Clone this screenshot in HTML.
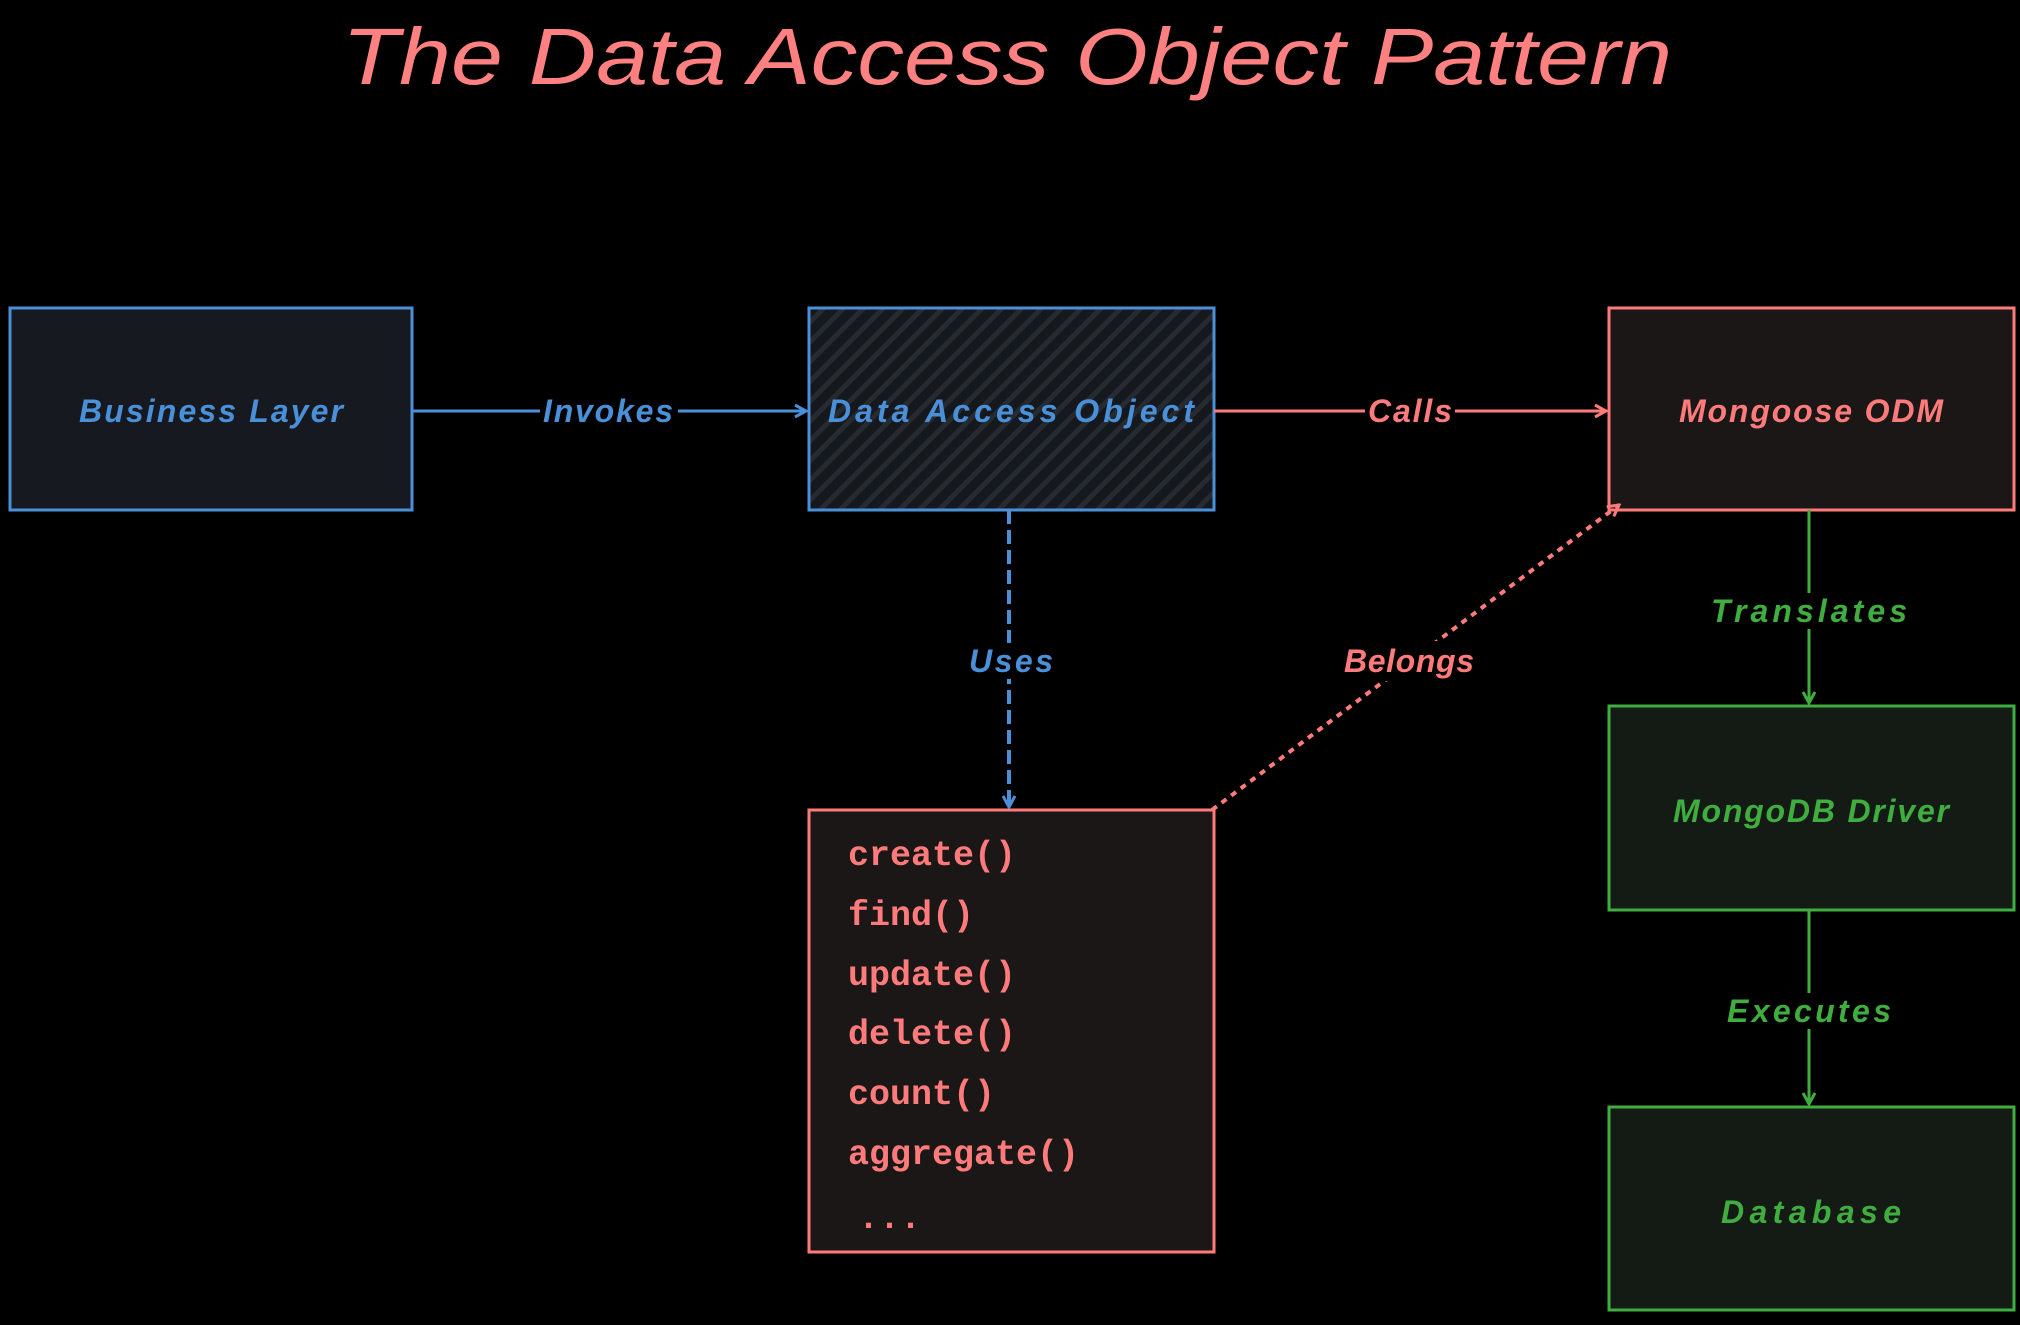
<!DOCTYPE html>
<html><head><meta charset="utf-8"><style>
html,body{margin:0;padding:0;background:#000;}
body{width:2020px;height:1320px;overflow:hidden;position:relative;font-family:"Liberation Sans",sans-serif;}
</style></head><body>
<svg width="2020" height="1320" viewBox="0 0 2020 1320" xmlns="http://www.w3.org/2000/svg">
<defs>
<pattern id="hatch" width="14" height="14" patternUnits="userSpaceOnUse" patternTransform="rotate(45)">
<rect width="14" height="14" fill="#15191e"/><rect width="5" height="14" fill="#262b31"/>
</pattern>
<marker id="ab" markerWidth="14" markerHeight="14" refX="12" refY="7" orient="auto" markerUnits="userSpaceOnUse"><path d="M1,1 L12,7 L1,13" fill="none" stroke="#4a90d9" stroke-width="3"/></marker>
<marker id="ar" markerWidth="14" markerHeight="14" refX="12" refY="7" orient="auto" markerUnits="userSpaceOnUse"><path d="M1,1 L12,7 L1,13" fill="none" stroke="#ff7b7b" stroke-width="3"/></marker>
<marker id="ag" markerWidth="14" markerHeight="14" refX="12" refY="7" orient="auto" markerUnits="userSpaceOnUse"><path d="M1,1 L12,7 L1,13" fill="none" stroke="#3fae3f" stroke-width="3"/></marker>
</defs>
<text x="342" y="84" textLength="1330" lengthAdjust="spacingAndGlyphs" font-family="Liberation Sans, sans-serif" font-size="80" fill="#ff8080" font-style="italic">The Data Access Object Pattern</text>

<rect x="10" y="308" width="402" height="202" fill="#161a20" stroke="#4a90d9" stroke-width="3"/>
<rect x="809" y="308" width="405" height="202" fill="url(#hatch)" stroke="#4a90d9" stroke-width="3"/>
<rect x="1609" y="308" width="405" height="202" fill="#1c1717" stroke="#ff7b7b" stroke-width="3"/>
<rect x="1609" y="706" width="405" height="204" fill="#141b15" stroke="#3fae3f" stroke-width="3"/>
<rect x="1609" y="1107" width="405" height="203" fill="#141b15" stroke="#3fae3f" stroke-width="3"/>
<rect x="809" y="810" width="405" height="442" fill="#1c1717" stroke="#ff7b7b" stroke-width="3"/>

<line x1="412" y1="411" x2="806" y2="411" stroke="#4a90d9" stroke-width="3" marker-end="url(#ab)"/>
<line x1="1214" y1="411" x2="1606" y2="411" stroke="#ff7b7b" stroke-width="3" marker-end="url(#ar)"/>
<line x1="1009" y1="510" x2="1009" y2="807" stroke="#4a90d9" stroke-width="4" stroke-dasharray="14 6" marker-end="url(#ab)"/>
<line x1="1212" y1="810" x2="1619" y2="505" stroke="#ff7b7b" stroke-width="4" stroke-dasharray="6 6" marker-end="url(#ar)"/>
<line x1="1809" y1="510" x2="1809" y2="703" stroke="#3fae3f" stroke-width="3" marker-end="url(#ag)"/>
<line x1="1809" y1="910" x2="1809" y2="1104" stroke="#3fae3f" stroke-width="3" marker-end="url(#ag)"/>

<rect x="540" y="393" width="138" height="36" fill="#000"/>
<rect x="1365" y="393" width="90" height="36" fill="#000"/>
<rect x="965" y="643" width="90" height="36" fill="#000"/>
<rect x="1340" y="641" width="140" height="40" fill="#000"/>
<rect x="1705" y="593" width="208" height="36" fill="#000"/>
<rect x="1725" y="993" width="168" height="36" fill="#000"/>

<g font-family="Liberation Sans, sans-serif" font-size="32" font-style="italic" font-weight="bold" text-anchor="middle" lengthAdjust="spacingAndGlyphs">
<text x="211" y="422" textLength="264" fill="#4a90d9">Business Layer</text>
<text x="1011" y="422" textLength="366" fill="#4a90d9">Data Access Object</text>
<text x="1811" y="422" textLength="264" fill="#ff7b7b">Mongoose ODM</text>
<text x="1811" y="822" textLength="276" fill="#3fae3f">MongoDB Driver</text>
<text x="1811" y="1223" textLength="180" fill="#3fae3f">Database</text>
<text x="608" y="422" textLength="130" fill="#4a90d9">Invokes</text>
<text x="1410" y="422" textLength="84" fill="#ff7b7b">Calls</text>
<text x="1011" y="672" textLength="84" fill="#4a90d9">Uses</text>
<text x="1409" y="672" textLength="130" fill="#ff7b7b">Belongs</text>
<text x="1809" y="622" textLength="196" fill="#3fae3f">Translates</text>
<text x="1809" y="1022" textLength="164" fill="#3fae3f">Executes</text>
</g>
<g font-family="Liberation Mono, monospace" font-size="35" font-weight="bold" fill="#ff7b7b">
<text x="848" y="865">create()</text>
<text x="848" y="925">find()</text>
<text x="848" y="985">update()</text>
<text x="848" y="1044">delete()</text>
<text x="848" y="1104">count()</text>
<text x="848" y="1164">aggregate()</text>
<text x="858" y="1228">...</text>
</g>
</svg>
</body></html>
